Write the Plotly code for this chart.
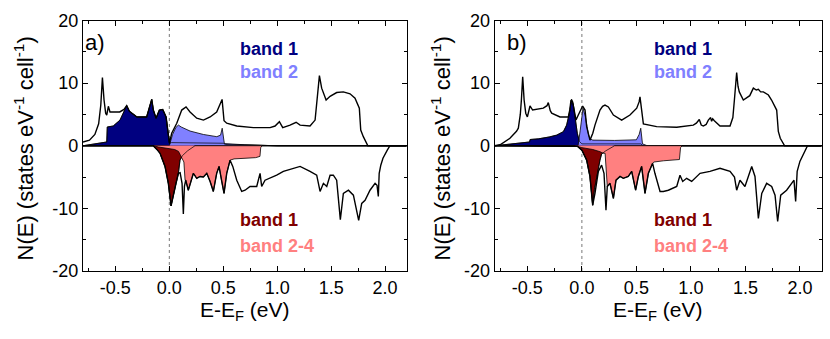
import plotly.graph_objects as go

# ---------------- data (energies in eV, DOS in states/eV/cell) ----------------
# Panel a) spin up total
E_up_a = [-0.80, -0.74, -0.69, -0.655, -0.635, -0.62, -0.605, -0.59, -0.58, -0.565, -0.55, -0.46, -0.42,
          -0.395, -0.37, -0.30, -0.21, -0.185, -0.163, -0.148, -0.123, -0.092, -0.061, -0.03, -0.01, 0.001,
          0.022, 0.069, 0.115, 0.155, 0.192, 0.254, 0.316, 0.378, 0.439, 0.47, 0.489, 0.507, 0.532, 0.625,
          0.779, 0.934, 0.98, 1.02, 1.051, 1.119, 1.175, 1.212, 1.304, 1.351, 1.372, 1.391, 1.412, 1.453,
          1.49, 1.551, 1.613, 1.675, 1.721, 1.761, 1.774, 1.798, 1.84, 2.2]
N_up_a = [0.6, 0.9, 1.8, 3.5, 6.5, 10.9, 7.3, 5.2, 4.9, 6.3, 5.4, 5.4, 5.8,
          6.4, 5.5, 4.6, 4.6, 6.2, 7.4, 5.7, 4.4, 5.7, 5.8, 4.6, 2.0, 0.4,
          2.0, 3.6, 5.7, 6.2, 5.4, 4.4, 4.1, 4.6, 5.4, 6.8, 7.4, 4.0, 3.6, 3.15,
          2.9, 2.9, 3.15, 3.85, 2.9, 3.3, 3.75, 3.3, 3.15, 4.1, 7.8, 11.2, 9.2, 7.3,
          7.9, 8.5, 8.6, 8.3, 7.6, 6.0, 2.5, 1.45, 0.0, 0.0]
# Panel a) spin up, band 1
E_b1up_a = [-0.80, -0.70, -0.58, -0.575, -0.52, -0.457, -0.426, -0.395, -0.37, -0.30, -0.21, -0.185, -0.163,
            -0.148, -0.123, -0.092, -0.061, -0.03, -0.01, 0.001, 0.02, 0.30, 0.50, 0.52, 0.80, 1.0, 2.2]
N_b1up_a = [0.0, 0.3, 0.6, 3.0, 3.15, 4.1, 5.4, 6.4, 5.5, 4.6, 4.6, 6.2, 7.4,
            5.7, 4.4, 5.7, 5.8, 4.6, 2.0, 0.4, 0.5, 0.45, 0.4, 0.2, 0.05, 0.0, 0.0]
# Panel a) spin up, band 2
E_b2up_a = [-0.80, 0.0, 0.03, 0.06, 0.084, 0.11, 0.192, 0.316, 0.44, 0.475, 0.49, 0.50, 0.51, 0.70, 1.0, 2.2]
N_b2up_a = [0.0, 0.0, 1.8, 2.9, 3.3, 3.0, 2.35, 1.8, 1.45, 1.7, 2.8, 1.2, 0.35, 0.15, 0.0, 0.0]
# Panel a) spin down total
E_dn_a = [-0.80, -0.15, -0.12, -0.086, -0.04, -0.009, 0.016, 0.038, 0.062, 0.084, 0.10, 0.118, 0.13, 0.14,
          0.152, 0.176, 0.198, 0.223, 0.254, 0.285, 0.316, 0.347, 0.378, 0.408, 0.439, 0.461, 0.486, 0.507,
          0.532, 0.563, 0.588, 0.625, 0.671, 0.702, 0.748, 0.81, 0.841, 0.856, 0.887, 0.934, 0.995, 1.057,
          1.119, 1.212, 1.304, 1.366, 1.397, 1.428, 1.459, 1.49, 1.52, 1.551, 1.585, 1.613, 1.66, 1.706,
          1.755, 1.783, 1.814, 1.86, 1.907, 1.925, 1.937, 1.945, 1.96, 1.98, 2.02, 2.045, 2.2]
N_dn_a = [0.0, 0.0, -0.5, -1.2, -3.3, -6.0, -9.6, -8.1, -6.0, -4.4, -4.3, -6.0, -10.9, -6.5,
          -5.5, -7.1, -5.7, -4.4, -5.2, -4.9, -5.0, -4.4, -5.7, -7.3, -4.4, -3.3, -5.7, -7.6,
          -4.4, -2.3, -3.3, -5.5, -7.3, -7.1, -6.5, -6.5, -4.4, -6.5, -5.5, -5.2, -4.7, -4.1,
          -3.8, -3.3, -4.1, -4.7, -7.3, -6.0, -6.5, -4.7, -4.7, -5.5, -11.8, -7.6, -7.1, -7.9,
          -11.9, -9.2, -8.7, -7.1, -6.0, -6.3, -8.1, -4.4, -3.1, -2.0, -0.7, 0.0, 0.0]
# Panel a) spin down, band 1
E_b1dn_a = [-0.80, -0.15, -0.12, -0.086, -0.04, -0.009, 0.016, 0.038, 0.062, 0.084, 0.099, 0.12, 0.17, 0.238, 2.2]
N_b1dn_a = [0.0, 0.0, -0.5, -1.2, -3.3, -6.0, -9.6, -8.1, -6.0, -4.4, -2.3, -1.6, -0.8, 0.0, 0.0]
# Panel a) spin down, bands 2-4
E_b2dn_a = [-0.80, -0.15, -0.10, -0.05, 0.0, 0.05, 0.085, 0.10, 0.12, 0.135, 0.146, 0.152, 0.176, 0.198,
            0.223, 0.254, 0.285, 0.316, 0.347, 0.378, 0.408, 0.439, 0.461, 0.486, 0.507, 0.532, 0.563,
            0.60, 0.70, 0.80, 0.84, 0.847, 0.86, 2.2]
N_b2dn_a = [0.0, 0.0, -0.2, -0.35, -0.45, -0.6, -0.9, -1.5, -2.2, -2.6, -5.5, -5.5, -7.1, -5.7,
            -4.4, -5.2, -4.9, -5.0, -4.4, -5.7, -7.3, -4.4, -3.3, -5.7, -7.6, -4.4, -2.3,
            -2.1, -2.0, -1.9, -1.7, -0.3, 0.0, 0.0]

# Panel b) spin up total
E_up_b = [-0.80, -0.75, -0.66, -0.60, -0.583, -0.565, -0.555, -0.543, -0.53, -0.515, -0.50, -0.476, -0.452,
          -0.40, -0.354, -0.32, -0.308, -0.29, -0.277, -0.201, -0.124, -0.11, -0.100, -0.085, -0.065, -0.054,
          -0.033, -0.01, 0.007, 0.029, 0.044, 0.074, 0.10, 0.12, 0.166, 0.19, 0.212, 0.243, 0.289, 0.365,
          0.441, 0.503, 0.525, 0.533, 0.551, 0.564, 0.686, 0.87, 1.022, 1.05, 1.077, 1.095, 1.114, 1.14,
          1.16, 1.181, 1.19, 1.20, 1.215, 1.267, 1.359, 1.385, 1.399, 1.42, 1.432, 1.444, 1.481, 1.512,
          1.54, 1.573, 1.60, 1.619, 1.64, 1.665, 1.711, 1.74, 1.756, 1.787, 1.802, 1.82, 1.86, 2.2]
N_up_b = [0.0, 0.15, 1.2, 2.3, 2.8, 5.0, 7.3, 11.0, 7.3, 5.2, 4.6, 6.35, 5.7,
          5.8, 6.0, 6.4, 6.9, 5.6, 5.2, 4.6, 4.6, 5.8, 7.3, 7.0, 5.0, 4.1,
          4.9, 5.8, 6.35, 5.7, 3.05, 0.9, 2.0, 3.3, 5.7, 6.3, 6.5, 6.2, 4.9, 4.1,
          4.9, 6.0, 7.0, 7.8, 4.6, 3.5, 3.05, 2.95, 3.3, 3.6, 4.2, 3.3, 3.15, 3.4,
          4.1, 4.5, 3.9, 4.3, 4.0, 3.15, 3.15, 4.5, 7.3, 11.7, 9.5, 8.6, 7.3, 7.6,
          8.0, 9.2, 8.9, 9.0, 8.6, 8.6, 8.1, 7.3, 6.8, 5.7, 2.3, 1.2, 0.0, 0.0]
# Panel b) spin up, band 1
E_b1up_b = [-0.80, -0.70, -0.58, -0.48, -0.475, -0.40, -0.30, -0.231, -0.17, -0.14, -0.115, -0.094, -0.078,
            -0.063, -0.042, -0.023, 0.0, 0.30, 0.54, 0.56, 2.2]
N_b1up_b = [0.0, 0.15, 0.4, 0.6, 1.0, 1.1, 1.4, 1.7, 2.25, 3.3, 5.2, 7.4, 6.5,
            4.4, 2.0, 0.7, 0.3, 0.3, 0.3, 0.0, 0.0]
# Panel b) spin up, band 2
E_b2up_b = [-0.80, -0.035, -0.015, 0.0, 0.01, 0.03, 0.045, 0.06, 0.075, 0.10, 0.30, 0.50, 0.525, 0.54, 0.556, 0.60, 2.2]
N_b2up_b = [0.0, 0.0, 2.5, 5.0, 6.0, 4.8, 3.0, 1.8, 1.1, 0.9, 0.85, 0.95, 1.8, 2.8, 0.3, 0.0, 0.0]
# Panel b) spin down total
E_dn_b = [-0.80, -0.065, -0.04, 0.0, 0.044, 0.074, 0.09, 0.099, 0.12, 0.136, 0.151, 0.181, 0.203, 0.221,
          0.233, 0.258, 0.289, 0.313, 0.35, 0.38, 0.426, 0.457, 0.493, 0.518, 0.548, 0.579, 0.61, 0.649,
          0.67, 0.717, 0.747, 0.793, 0.87, 0.90, 0.925, 0.961, 1.007, 1.084, 1.175, 1.267, 1.359, 1.40,
          1.42, 1.45, 1.496, 1.527, 1.558, 1.588, 1.619, 1.65, 1.695, 1.741, 1.772, 1.796, 1.824, 1.878,
          1.925, 1.946, 1.961, 1.975, 2.0, 2.047, 2.07, 2.2]
N_dn_b = [0.0, 0.0, -0.1, -0.7, -2.3, -4.9, -7.5, -9.5, -7.6, -5.5, -4.1, -3.1, -4.4, -10.3,
          -6.5, -6.0, -8.4, -5.5, -4.9, -5.2, -4.9, -4.1, -7.1, -4.9, -3.3, -7.6, -4.4, -2.8,
          -4.4, -7.3, -7.3, -7.1, -6.5, -4.7, -5.7, -5.2, -5.7, -4.4, -4.1, -3.6, -4.1, -5.0,
          -7.1, -5.5, -6.5, -4.9, -3.3, -4.9, -11.6, -7.6, -6.0, -6.5, -7.9, -12.1, -7.9, -7.1,
          -6.0, -5.5, -8.9, -4.1, -2.5, -0.7, 0.0, 0.0]
# Panel b) spin down, band 1
E_b1dn_b = [-0.80, -0.065, -0.04, 0.0, 0.044, 0.074, 0.09, 0.099, 0.115, 0.136, 0.15, 0.166, 0.181, 0.22, 0.30, 2.2]
N_b1dn_b = [0.0, 0.0, -0.1, -0.7, -2.3, -4.9, -7.5, -9.5, -7.0, -5.0, -3.5, -2.3, -1.3, -0.8, 0.0, 0.0]
# Panel b) spin down, bands 2-4
E_b2dn_b = [-0.80, -0.065, 0.0, 0.05, 0.10, 0.166, 0.195, 0.213, 0.225, 0.233, 0.258, 0.289, 0.313, 0.35,
            0.38, 0.426, 0.457, 0.493, 0.518, 0.548, 0.579, 0.61, 0.649, 0.66, 0.75, 0.85, 0.895, 0.905, 0.92, 2.2]
N_b2dn_b = [0.0, 0.0, -0.3, -0.45, -0.6, -0.95, -1.2, -1.2, -5.5, -6.5, -6.0, -8.4, -5.5, -4.9,
            -5.2, -4.9, -4.1, -7.1, -4.9, -3.3, -7.6, -4.4, -2.8, -2.6, -2.4, -2.3, -2.2, -0.3, 0.0, 0.0]

xtick_vals = [-0.5, 0.0, 0.5, 1.0, 1.5, 2.0]
xtick_text = ["-0.5", "0.0", "0.5", "1.0", "1.5", "2.0"]
ytick_vals = [-20, -10, 0, 10, 20]
ytick_text = ["-20", "-10", "0", "10", "20"]
panel_labels = ["a)", "b)"]
up_labels = ["band 1", "band 2"]
dn_labels = ["band 1", "band 2-4"]

C_NAVY = "#000080"
C_LBLUE = "#8080ff"
C_DRED = "#800000"
C_PINK = "#ff8080"
FONT = "Liberation Sans, Arial, sans-serif"

fig = go.Figure()

panels = [
    ("x", "y", E_up_a, N_up_a, E_b1up_a, N_b1up_a, E_b2up_a, N_b2up_a,
     E_dn_a, N_dn_a, E_b1dn_a, N_b1dn_a, E_b2dn_a, N_b2dn_a),
    ("x2", "y2", E_up_b, N_up_b, E_b1up_b, N_b1up_b, E_b2up_b, N_b2up_b,
     E_dn_b, N_dn_b, E_b1dn_b, N_b1dn_b, E_b2dn_b, N_b2dn_b),
]

for (xa, ya, eu, nu, e1u, n1u, e2u, n2u, ed, nd, e1d, n1d, e2d, n2d) in panels:
    def add(x, y, fillcolor=None, width=0.8):
        fig.add_trace(go.Scatter(
            x=x, y=y, xaxis=xa, yaxis=ya, mode="lines",
            line=dict(color="black", width=width),
            fill="tozeroy" if fillcolor else None,
            fillcolor=fillcolor, showlegend=False, hoverinfo="skip"))
    add(e1u, n1u, C_NAVY)
    add(e2u, n2u, C_LBLUE)
    add(e1u, n1u, None, 0.7)
    add(e1d, n1d, C_DRED)
    add(e2d, n2d, C_PINK)
    add(e1d, n1d, None, 0.7)
    add(eu, nu, None, 1.4)
    add(ed, nd, None, 1.4)

axis_common = dict(
    showline=True, linecolor="black", linewidth=1.3, mirror="ticks",
    ticks="inside", ticklen=5, tickwidth=1.2, tickcolor="black",
    showgrid=False, zeroline=False, automargin=False,
    tickfont=dict(family=FONT, size=18, color="black"),
)
xax = dict(axis_common, range=[-0.8, 2.2], tickmode="array", tickvals=xtick_vals, ticktext=xtick_text,
           minor=dict(ticks="inside", ticklen=3, tickwidth=1.2, tickcolor="black", dtick=0.25, tick0=0))
yax = dict(axis_common, range=[-20, 20], tickmode="array", tickvals=ytick_vals, ticktext=ytick_text,
           zeroline=True, zerolinecolor="black", zerolinewidth=1.3,
           minor=dict(ticks="inside", ticklen=3, tickwidth=1.2, tickcolor="black", dtick=5, tick0=0))

ydom = [0.2006, 0.9395]
fig.update_layout(
    width=830, height=339,
    margin=dict(l=0, r=0, t=0, b=0),
    paper_bgcolor="white", plot_bgcolor="white",
    font=dict(family=FONT, color="black"),
    xaxis=dict(xax, domain=[0.1, 0.49], anchor="y"),
    yaxis=dict(yax, domain=ydom, anchor="x"),
    xaxis2=dict(xax, domain=[0.596, 0.99], anchor="y2"),
    yaxis2=dict(yax, domain=ydom, anchor="x2"),
)

for xr, yr in [("x", "y"), ("x2", "y2")]:
    fig.add_shape(type="line", xref=xr, yref=yr, x0=0, x1=0, y0=-20, y1=20,
                  line=dict(color="#777777", width=1, dash="dot"), layer="below")

annots = []
# Panel labels
annots.append(dict(text=panel_labels[0], xref="paper", yref="paper", x=0.1, y=0.876,
                   xanchor="left", yanchor="middle", showarrow=False,
                   font=dict(family=FONT, size=22, color="black")))
annots.append(dict(text=panel_labels[1], xref="paper", yref="paper", x=0.608, y=0.876,
                   xanchor="left", yanchor="middle", showarrow=False,
                   font=dict(family=FONT, size=22, color="black")))
# band labels
for xr, yr in [("x", "y"), ("x2", "y2")]:
    for txt, yv, col in [(up_labels[0], 15.4, C_NAVY), (up_labels[1], 11.7, C_LBLUE),
                         (dn_labels[0], -11.9, C_DRED), (dn_labels[1], -16.0, C_PINK)]:
        annots.append(dict(text="<b>%s</b>" % txt, xref=xr, yref=yr, x=0.64, y=yv,
                           xanchor="left", yanchor="middle", showarrow=False,
                           font=dict(family=FONT, size=18, color=col)))
# axis titles
ytitle = "N(E) (states eV<sup>-1</sup> cell<sup>-1</sup>)"
xtitle = "E-E<sub>F</sub> (eV)"
for xp in [24 / 830, 441 / 830]:
    annots.append(dict(text=ytitle, xref="paper", yref="paper", x=xp, y=0.562, textangle=-90,
                       xanchor="center", yanchor="middle", showarrow=False,
                       font=dict(family=FONT, size=22, color="black")))
for xp in [(0.1 + 0.49) / 2, (0.596 + 0.99) / 2]:
    annots.append(dict(text=xtitle, xref="paper", yref="paper", x=xp, y=1 - 311 / 339,
                       xanchor="center", yanchor="middle", showarrow=False,
                       font=dict(family=FONT, size=21, color="black")))
fig.update_layout(annotations=annots)

fig.write_html("out.html", config={"displayModeBar": False},
               post_script="document.body.style.margin='0px';document.body.style.padding='0px';")
